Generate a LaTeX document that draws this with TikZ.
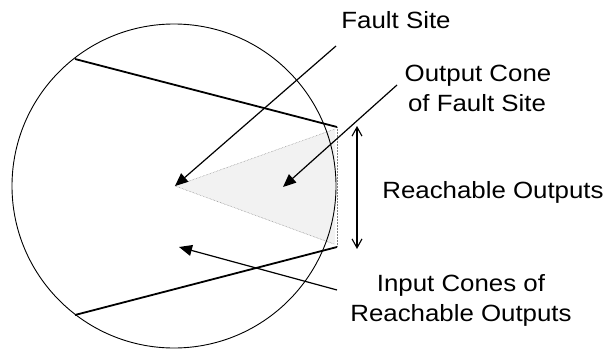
\documentclass[tikz,border=0pt]{standalone}
\usepackage{fontspec}
\setmainfont{Liberation Sans}[FakeStretch=1.1]
\usetikzlibrary{arrows.meta}
\begin{document}
\begin{tikzpicture}[x=1pt,y=-1pt,
  lbl/.style={font=\fontsize{23.5}{30}\selectfont, inner sep=0pt, anchor=base},
  pointer/.style={line width=1.2pt, -{Triangle[length=13pt,width=11pt]}},
  border/.style={line width=0.9pt},
  cut/.style={line width=1.8pt},
  conel/.style={gray, line width=0.5pt, densely dotted}]
\useasboundingbox (0,0) rectangle (611,351);

% circuit outline and fault site
\coordinate (ctr) at (174,186);
\coordinate (fs) at (175,186);
\coordinate (oTop) at (337,127);
\coordinate (oBot) at (337,247);
\coordinate (uL) at (75,59);
\coordinate (lL) at (75,315);

% output cone of the fault site
\fill[black!5] (fs) -- (335,129) -- (335,245) -- cycle;
\draw[conel] (fs) -- (335,129);
\draw[conel] (fs) -- (334,244);
\draw[conel] (oTop) -- (oBot);

\draw[border] (ctr) circle (162);

% input cone boundaries
\draw[cut] (uL) -- (oTop);
\draw[cut] (lL) -- (oBot);

% labels
\node[lbl] (tFault) at (396,28) {Fault Site};
\node[lbl] (tOutA) at (478,81) {Output Cone};
\node[lbl] (tOutB) at (477,111) {of Fault Site};
\node[lbl] (tReach) at (493,198) {Reachable Outputs};
\node[lbl] (tInA) at (461,291) {Input Cones of};
\node[lbl] (tInB) at (461,321) {Reachable Outputs};

% pointers
\coordinate (sFault) at (336,46);
\coordinate (sOut) at (397,85);
\coordinate (tipOut) at (283,187);
\coordinate (sIn) at (337,290);
\coordinate (tipIn) at (179,247);
\draw[pointer] (sFault) -- (fs);
\draw[pointer] (sOut) -- (tipOut);
\draw[pointer] (sIn) -- (tipIn);

% range of reachable outputs
\coordinate (rTop) at (357,126);
\coordinate (rBot) at (357,249);
\draw[line width=1.1pt, {Straight Barb[length=9pt,width=10pt]}-{Straight Barb[length=9pt,width=10pt]}] (rTop) -- (rBot);
\end{tikzpicture}
\end{document}
